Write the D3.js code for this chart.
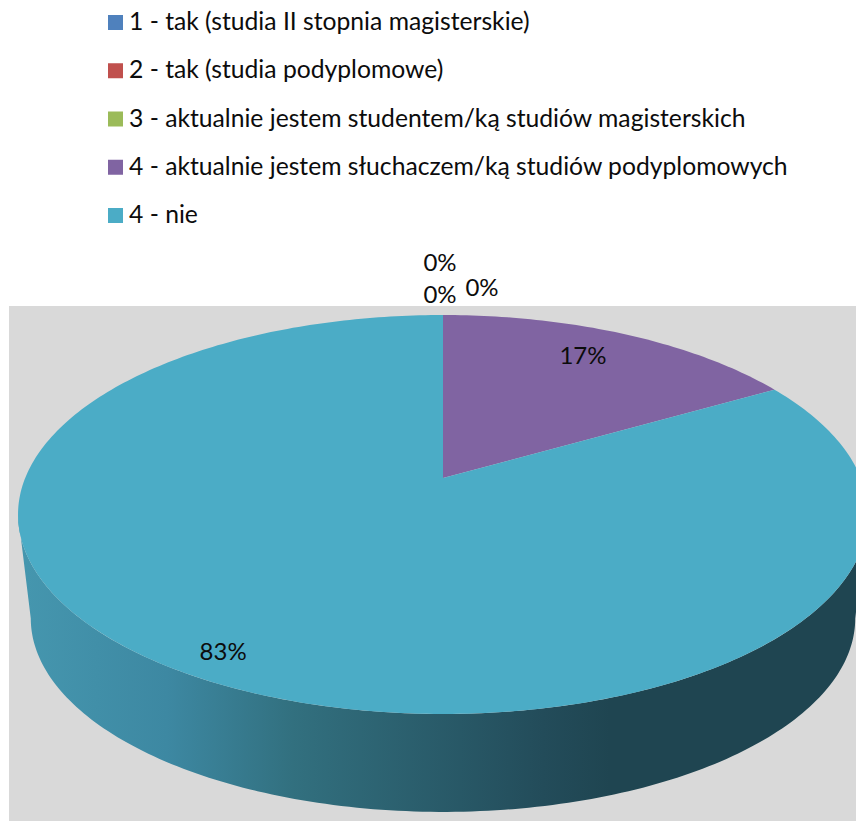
<!DOCTYPE html>
<html>
<head>
<meta charset="utf-8">
<script src="https://cdn.jsdelivr.net/npm/d3@7/dist/d3.min.js"></script>
<style>
  html, body { margin: 0; padding: 0; background: #fff; }
  svg { display: block; }
  text { font-family: Lato, "Open Sans", sans-serif; fill: #0c0c0c; }
</style>
</head>
<body>
<div id="graphic"></div>
<script>
// Data
var categories = [
  '1 - tak (studia II stopnia magisterskie)',
  '2 - tak (studia podyplomowe)',
  '3 - aktualnie jestem studentem/ką studiów magisterskich',
  '4 - aktualnie jestem słuchaczem/ką studiów podyplomowych',
  '4 - nie'
];
var values = [0, 0, 0, 1, 5];
var colors = ['#4f81bd', '#c0504d', '#9bbb59', '#8064a2', '#4bacc6'];

// Wall shading, left to right across the pie
var wallOffsets = [0, 0.17, 0.32, 0.62, 0.7, 1];
var wallColors = ['#4596ae', '#3d88a2', '#32707f', '#234c5a', '#1f4551', '#1f4551'];

var width = 856;
var height = 821;

// Pie tilt: top face is a perspective view of a circle
var pieX = 443;
var pieY = 478;
var radiusX = 417.8;
var radiusY = 192.8;
var tilt = 0.183;
var wallDrop = 105;
var wallScale = 0.97;

var project = function (angle, r, drop, scale) {
  var u = Math.sin(angle) * r;
  var v = Math.cos(angle) * r;
  var s = scale / (1 + tilt * v);
  return [pieX + radiusX * u * s, pieY + drop - radiusY * v * s];
};

var arcPoints = function (start, end, drop, scale) {
  var n = Math.max(2, Math.ceil(Math.abs(end - start) * 60));
  return d3.range(n + 1).map(function (i) {
    return project(start + ((end - start) * i) / n, 1, drop, scale);
  });
};

var line = d3.line();

var svg = d3.select('#graphic')
  .append('svg')
  .attr('width', width)
  .attr('height', height);

var gradient = svg.append('defs')
  .append('linearGradient')
  .attr('id', 'wall')
  .attr('gradientUnits', 'userSpaceOnUse')
  .attr('x1', pieX - radiusX)
  .attr('x2', pieX + radiusX)
  .attr('y1', 0)
  .attr('y2', 0);

gradient.selectAll('stop')
  .data(wallOffsets)
  .enter().append('stop')
  .attr('offset', function (d) { return d; })
  .attr('stop-color', function (d, i) { return wallColors[i]; });

// Plot background
svg.append('rect')
  .attr('x', 9)
  .attr('y', 306)
  .attr('width', width - 9)
  .attr('height', height - 306)
  .attr('fill', '#d9d9d9');

// Legend
var legendY = d3.scalePoint()
  .domain(categories)
  .range([30, 223]);

var legend = svg.append('g');

legend.selectAll('rect')
  .data(categories)
  .enter().append('rect')
  .attr('x', 108)
  .attr('y', function (d) { return legendY(d) - 15; })
  .attr('width', 15)
  .attr('height', 15)
  .attr('fill', function (d, i) { return colors[i]; });

legend.selectAll('text')
  .data(categories)
  .enter().append('text')
  .attr('x', 129)
  .attr('y', function (d) { return legendY(d); })
  .attr('font-size', 24.7)
  .text(function (d) { return d; });

// Pie
var pie = d3.pie().sort(null).value(function (d) { return d; });
var slices = pie(values);

// Wall along the front edge of the pie
var edge = Math.acos(-tilt);
var wallPath = arcPoints(edge, 2 * Math.PI - edge, 0, 1)
  .concat(arcPoints(2 * Math.PI - edge, edge, wallDrop, wallScale));

svg.append('path')
  .attr('d', line(wallPath) + 'Z')
  .attr('fill', 'url(#wall)');

// Top face
svg.selectAll('path.slice')
  .data(slices.filter(function (d) { return d.value > 0; }))
  .enter().append('path')
  .attr('class', 'slice')
  .attr('d', function (d) {
    var points = [project(0, 0, 0, 1)].concat(arcPoints(d.startAngle, d.endAngle, 0, 1));
    return line(points) + 'Z';
  })
  .attr('fill', function (d) { return colors[d.index]; });

// Labels sit from the slice middle, nudged the way the original has them
var labelRadius = [1, 1, 1, 0.72, 0.93];
var labelNudgeX = [-3, -3, 39, 5, 8];
var labelNudgeY = [-44, -12, -19, -6, 0];
var total = d3.sum(values);
var percent = d3.format('.0%');

svg.selectAll('text.label')
  .data(slices)
  .enter().append('text')
  .attr('class', 'label')
  .attr('text-anchor', 'middle')
  .attr('font-size', 24)
  .attr('x', function (d, i) {
    var mid = (d.startAngle + d.endAngle) / 2;
    return project(mid, labelRadius[i], 0, 1)[0] + labelNudgeX[i];
  })
  .attr('y', function (d, i) {
    var mid = (d.startAngle + d.endAngle) / 2;
    return project(mid, labelRadius[i], 0, 1)[1] + labelNudgeY[i];
  })
  .text(function (d) { return percent(d.value / total); });
</script>
</body>
</html>
